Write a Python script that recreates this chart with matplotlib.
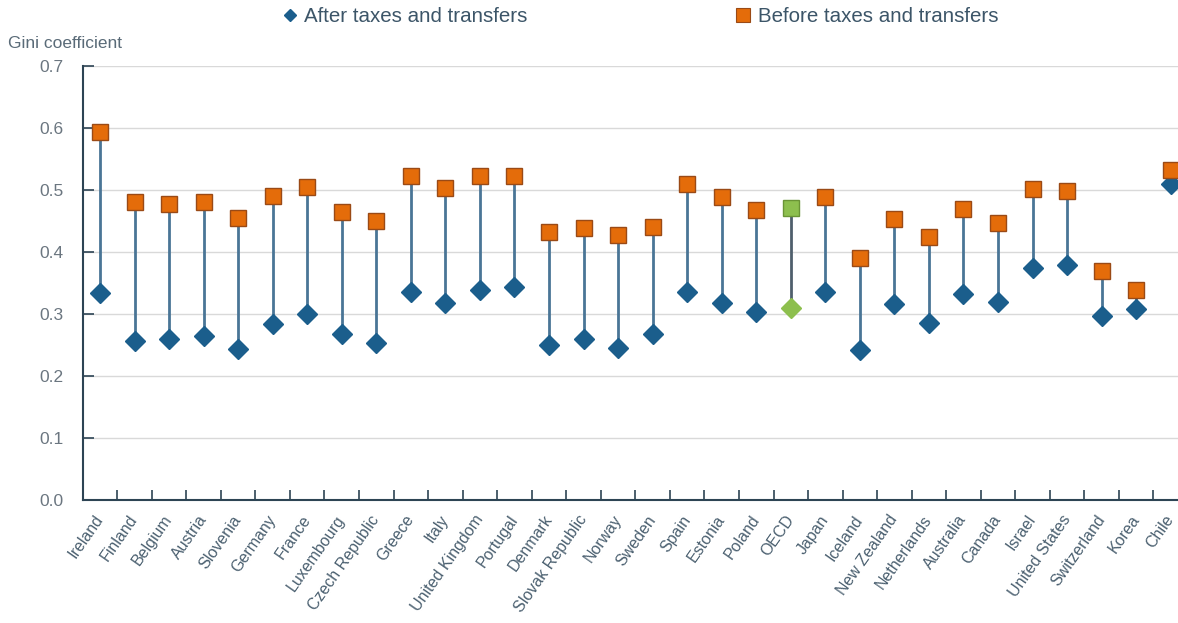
"""Gini coefficient before and after taxes and transfers"""
import numpy as np
import matplotlib
matplotlib.use("Agg")
import matplotlib.pyplot as plt
from matplotlib.lines import Line2D

countries = ["Ireland", "Finland", "Belgium", "Austria", "Slovenia", "Germany",
             "France", "Luxembourg", "Czech Republic", "Greece", "Italy",
             "United Kingdom", "Portugal", "Denmark", "Slovak Republic", "Norway",
             "Sweden", "Spain", "Estonia", "Poland", "OECD", "Japan", "Iceland",
             "New Zealand", "Netherlands", "Australia", "Canada", "Israel",
             "United States", "Switzerland", "Korea", "Chile"]
before = [0.593, 0.480, 0.478, 0.480, 0.455, 0.491, 0.505, 0.464, 0.450, 0.523,
          0.503, 0.523, 0.523, 0.433, 0.439, 0.428, 0.441, 0.510, 0.488, 0.468,
          0.471, 0.488, 0.391, 0.454, 0.424, 0.469, 0.447, 0.502, 0.498, 0.370,
          0.339, 0.532]
after = [0.334, 0.257, 0.259, 0.264, 0.244, 0.284, 0.300, 0.268, 0.254, 0.336,
         0.317, 0.339, 0.343, 0.250, 0.259, 0.246, 0.267, 0.336, 0.318, 0.304,
         0.309, 0.335, 0.242, 0.316, 0.286, 0.332, 0.319, 0.375, 0.379, 0.297,
         0.308, 0.510]
highlight = "OECD"

plt.rcParams["font.family"] = ["Liberation Sans", "DejaVu Sans"]

ORANGE = "#E46C0A"
ORANGE_EDGE = "#9A4A16"
BLUE = "#1B5E8C"
STEM = "#4A7596"
GREEN = "#8DBF4E"
GREEN_EDGE = "#6A9436"
AXIS = "#2D4454"
TEXT = "#4B6070"

fig = plt.figure(figsize=(11.78, 6.23), dpi=100)
ax = fig.add_axes([0.0702, 0.1974, 0.9383, 0.6966])

x = np.arange(len(countries))
for i, name in enumerate(countries):
    oecd = name == highlight
    ax.plot([x[i], x[i]], [after[i], before[i]], color="#4F5F6C" if oecd else STEM,
            lw=2, zorder=2)
    ax.plot(x[i], after[i], marker="D", ms=10.5, color=GREEN if oecd else BLUE,
            mec=GREEN if oecd else BLUE, mew=1, zorder=3)
    ax.plot(x[i], before[i], marker="s", ms=12, color=GREEN if oecd else ORANGE,
            mec=GREEN_EDGE if oecd else ORANGE_EDGE, mew=1, zorder=4)

ax.set_xlim(-0.5, len(countries) - 0.5)
ax.set_ylim(0, 0.7)
ax.set_yticks(np.arange(0, 0.71, 0.1))
ax.set_yticklabels([f"{v:.1f}" for v in np.arange(0, 0.71, 0.1)])
ax.grid(axis="y", color="#D9D9D9", lw=1)
ax.set_axisbelow(True)

ax.set_xticks(x)
ax.set_xticklabels(countries, rotation=55, ha="right", va="center",
                   rotation_mode="anchor")
ax.set_xticks(x[:-1] + 0.5, minor=True)
ax.tick_params(axis="x", which="major", length=0, pad=12, labelsize=11.5,
               labelcolor=TEXT)
ax.tick_params(axis="x", which="minor", direction="in", length=7, width=1.2,
               color=AXIS)
ax.tick_params(axis="y", direction="in", length=8, width=1.2, color=AXIS,
               pad=14, labelsize=12.5, labelcolor="#6B7680")

for side in ["top", "right"]:
    ax.spines[side].set_visible(False)
for side in ["left", "bottom"]:
    ax.spines[side].set_color(AXIS)
    ax.spines[side].set_linewidth(1.5)

fig.text(8 / 1178, 1 - 43 / 623, "Gini coefficient", fontsize=12.5,
         color="#5A6B78", va="center", ha="left")

handles = [Line2D([], [], ls="none", marker="D", ms=6, color=BLUE),
           Line2D([], [], ls="none", marker="s", ms=10, color=ORANGE,
                  mec=ORANGE_EDGE, mew=0.8)]
fig.legend(handles, ["After taxes and transfers", "Before taxes and transfers"],
           loc="center", bbox_to_anchor=(0.544, 1 - 17 / 623), ncol=2,
           frameon=False, fontsize=14.8, handlelength=0.6, handletextpad=0.4,
           columnspacing=10.2, labelcolor="#3C5568")

fig.savefig("out.png", dpi=100)
